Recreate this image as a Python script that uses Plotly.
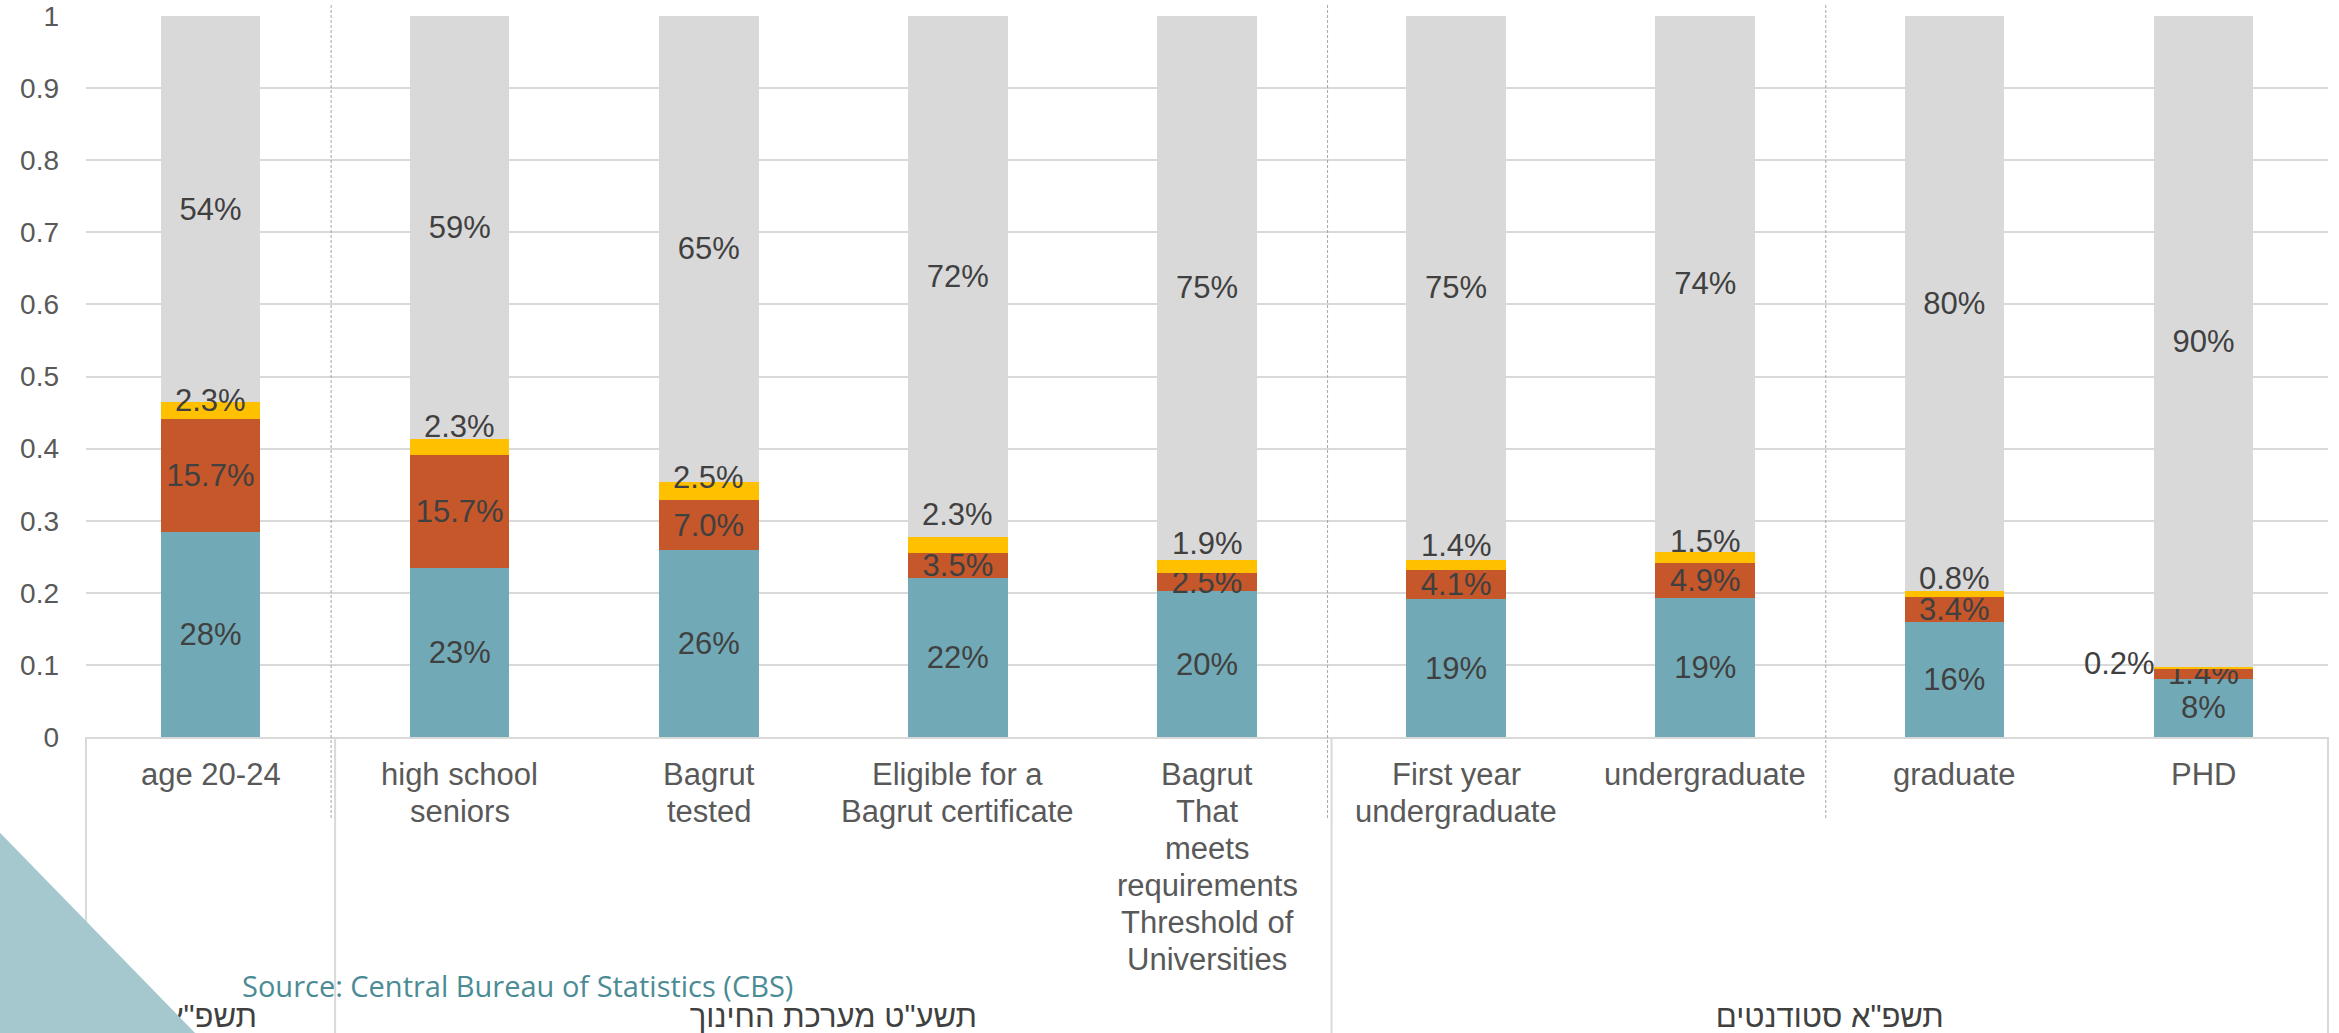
import plotly.graph_objects as go

# ---------------- data ----------------
categories = [
    "age 20-24",
    "high school\nseniors",
    "Bagrut\ntested",
    "Eligible for a\nBagrut certificate",
    "Bagrut\nThat\nmeets\nrequirements\nThreshold of\nUniversities",
    "First year\nundergraduate",
    "undergraduate",
    "graduate",
    "PHD",
]
groups = ['תשפ"א', 'תשע"ט מערכת החינוך', 'תשפ"א סטודנטים']
group_sizes = [1, 4, 4]
dashed_after = [0, 4, 6]  # dashed separators after these category indices

teal_vals = [0.284, 0.234, 0.259, 0.220, 0.202, 0.191, 0.193, 0.160, 0.081]
orange_vals = [0.157, 0.157, 0.070, 0.035, 0.025, 0.041, 0.049, 0.034, 0.014]
yellow_vals = [0.023, 0.023, 0.025, 0.023, 0.019, 0.014, 0.015, 0.008, 0.002]
gray_vals = [0.536, 0.586, 0.646, 0.722, 0.754, 0.754, 0.743, 0.798, 0.903]

y_tick_vals = [0, 0.1, 0.2, 0.3, 0.4, 0.5, 0.6, 0.7, 0.8, 0.9, 1]
source_text = "Source: Central Bureau of Statistics (CBS)"

# ---------------- style / layout ----------------
W, H = 2339, 1033
ML, MR, MT, MB = 86, 11, 16, 296
PW = W - ML - MR
PH = H - MT - MB
N = len(categories)

TEAL, ORANGE, YELLOW, GRAY = "#71AAB6", "#C5572A", "#FFC000", "#D9D9D9"
FONT = "Liberation Sans, Arial, DejaVu Sans, sans-serif"
LABEL_COLOR = "#404040"
AXIS_COLOR = "#595959"

# label nudges for the small yellow segments (pixels)
yellow_label_yshift = [10, 20, 13, 30, 23, 19, 16, 16, 4]
yellow_label_xshift = [0, 0, 0, 0, 0, 0, 0, 0, -84]


def px_to_paper_y(py):
    return (H - MB - py) / PH


def px_to_paper_x(px):
    return (px - ML) / PW


def data_to_paper_x(x):
    return (x + 0.5) / N


xs = list(range(N))
fig = go.Figure()

for vals, color, fmt in [
    (teal_vals, TEAL, "%{y:.0%}"),
    (orange_vals, ORANGE, "%{y:.1%}"),
    (yellow_vals, YELLOW, None),
    (gray_vals, GRAY, "%{y:.0%}"),
]:
    fig.add_trace(go.Bar(
        x=xs, y=vals, width=0.4,
        marker=dict(color=color, line=dict(width=0)),
        texttemplate=fmt if fmt else None,
        textposition="inside" if fmt else "none",
        insidetextanchor="middle",
        textangle=0,
        constraintext="none",
        textfont=dict(family=FONT, size=31, color=LABEL_COLOR),
        hoverinfo="skip",
        showlegend=False,
    ))

group_centers = []
start = 0
for s in group_sizes:
    group_centers.append(start + (s - 1) / 2)
    start += s

# invisible trace so that the group-label axis (x2) is rendered
fig.add_trace(go.Scatter(
    x=group_centers, y=[0] * len(group_centers), xaxis="x2", yaxis="y",
    mode="markers", marker=dict(opacity=0, size=1),
    hoverinfo="skip", showlegend=False,
))

annotations = []
# yellow segment labels
for i in range(N):
    ymid = teal_vals[i] + orange_vals[i] + yellow_vals[i] / 2
    annotations.append(dict(
        x=i, y=ymid, xref="x", yref="y",
        text=f"{yellow_vals[i] * 100:.1f}%",
        showarrow=False, xanchor="center", yanchor="middle",
        yshift=yellow_label_yshift[i], xshift=yellow_label_xshift[i],
        font=dict(family=FONT, size=31, color=LABEL_COLOR),
    ))

# category labels (one annotation per line for exact line spacing)
LINE_GAP = 37
FIRST_LINE = 37.5
for i, lab in enumerate(categories):
    for j, line in enumerate(lab.split("\n")):
        annotations.append(dict(
            x=i, y=0, xref="x", yref="paper",
            text=line, showarrow=False,
            xanchor="center", yanchor="middle",
            yshift=-(FIRST_LINE + LINE_GAP * j),
            font=dict(family=FONT, size=31, color=AXIS_COLOR),
        ))

# source note
annotations.append(dict(
    x=px_to_paper_x(240), y=px_to_paper_y(985), xref="paper", yref="paper",
    text=source_text, showarrow=False, xanchor="left", yanchor="middle",
    font=dict(family="Open Sans, Noto Sans, sans-serif", size=29, color="#4B8B95"),
))

shapes = []
# solid group dividers under the axis
bounds = [-0.5]
for s in group_sizes:
    bounds.append(bounds[-1] + s)
for b in bounds:
    xp = data_to_paper_x(b)
    shapes.append(dict(
        type="line", xref="paper", yref="paper",
        x0=xp, x1=xp, y0=0, y1=px_to_paper_y(H + 5),
        line=dict(color="#D9D9D9", width=2), layer="above",
    ))
# dashed separators
for d in dashed_after:
    xp = data_to_paper_x(d + 0.5) - 4 / PW
    shapes.append(dict(
        type="line", xref="paper", yref="paper",
        x0=xp, x1=xp, y0=px_to_paper_y(5), y1=px_to_paper_y(819),
        line=dict(color="#A6A6A6", width=1, dash="3px,2px"), layer="above",
    ))
# decorative triangle (bottom-left)
tx0, tx1 = px_to_paper_x(-26), px_to_paper_x(234)
ty0, ty1 = px_to_paper_y(806), px_to_paper_y(1073)
shapes.append(dict(
    type="path", xref="paper", yref="paper",
    path=f"M {tx0},{ty0} L {tx0},{ty1} L {tx1},{ty1} Z",
    fillcolor="#A5C8CF", line=dict(width=0), layer="above",
))

fig.update_layout(
    width=W, height=H,
    margin=dict(l=ML, r=MR, t=MT, b=MB, autoexpand=False),
    paper_bgcolor="white", plot_bgcolor="white",
    barmode="stack", bargap=0.6,
    font=dict(family=FONT),
    hovermode=False,
    xaxis=dict(
        range=[-0.5, N - 0.5], showticklabels=False, showgrid=False,
        zeroline=False, showline=True, linecolor="#D9D9D9", linewidth=2,
        ticks="", fixedrange=True,
    ),
    xaxis2=dict(
        overlaying="x", anchor="y", side="bottom", type="linear",
        range=[-0.5, N - 0.5], tickmode="array",
        tickvals=group_centers, ticktext=groups,
        tickfont=dict(family=FONT, size=31, color=LABEL_COLOR),
        ticklabelstandoff=258, showgrid=False, showline=False,
        zeroline=False, ticks="", automargin=False,
    ),
    yaxis=dict(
        range=[0, 1], tickmode="array", tickvals=y_tick_vals,
        tickfont=dict(family=FONT, size=28, color=AXIS_COLOR),
        gridcolor="#D9D9D9", gridwidth=2, zeroline=False, showline=False,
        ticks="", ticklabelstandoff=26, automargin=False,
    ),
    annotations=annotations,
    shapes=shapes,
)

fig.write_html(
    "out.html",
    config={"displayModeBar": False, "staticPlot": True},
    post_script="document.body.style.margin='0px';document.body.style.overflow='hidden';",
)
